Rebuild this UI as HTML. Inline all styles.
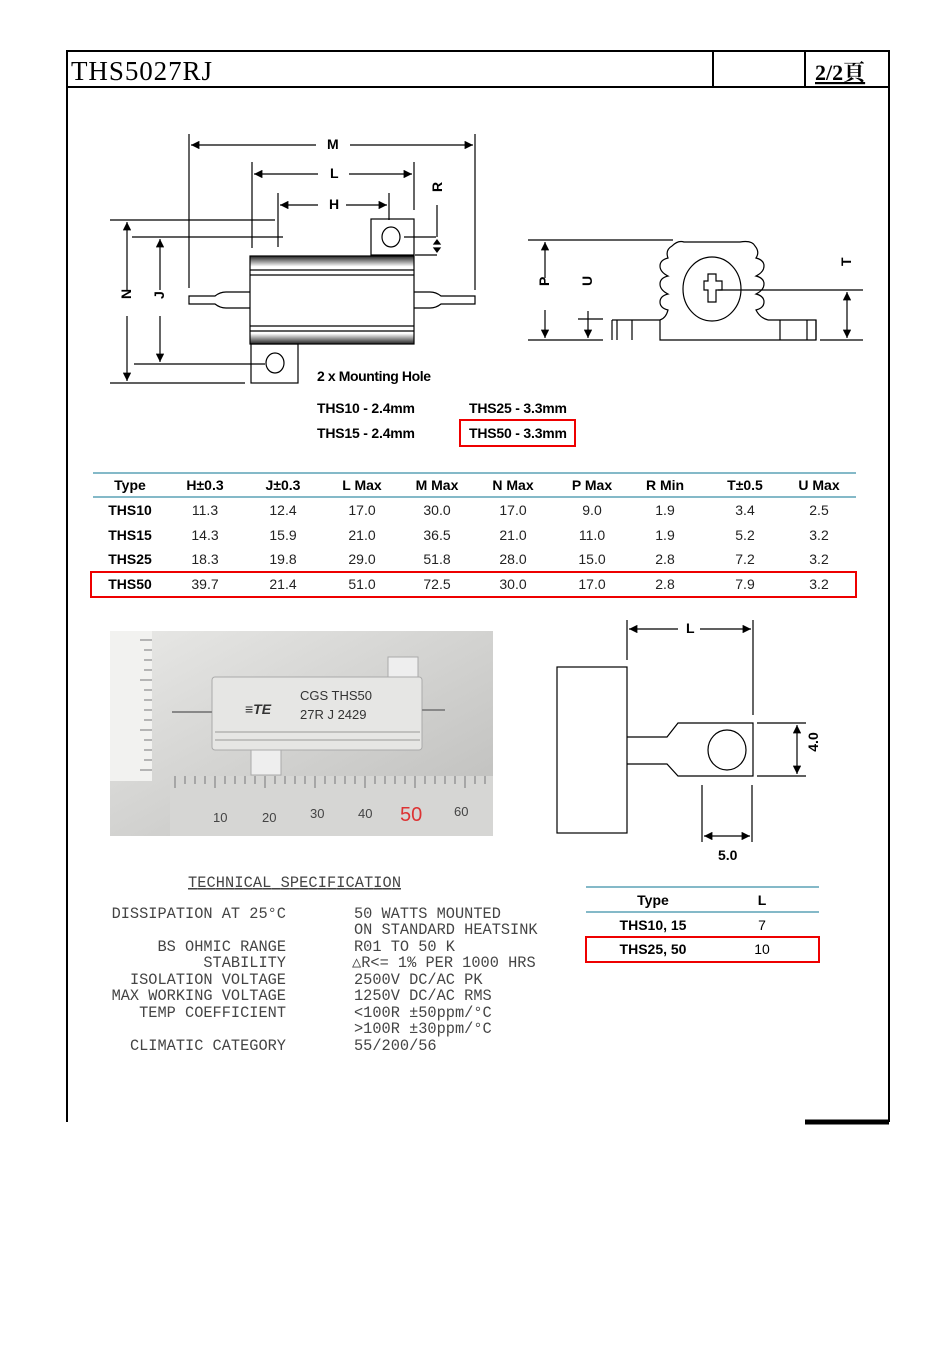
<!DOCTYPE html>
<html><head><meta charset="utf-8"><style>
body{margin:0;background:#fff;}
svg{display:block;}
.b{font-family:"Liberation Sans",sans-serif;font-weight:bold;font-size:14px;}
.n{font-family:"Liberation Sans",sans-serif;font-size:14px;}
.m{font-family:"Liberation Mono",monospace;font-size:15.3px;fill:#444;}
</style></head><body>
<svg width="926" height="1357" viewBox="0 0 926 1357" xmlns="http://www.w3.org/2000/svg">
<defs>
<marker id="a" viewBox="0 0 10 10" refX="10" refY="5" markerWidth="9" markerHeight="7" orient="auto-start-reverse"><path d="M0,0L10,5L0,10z" fill="#000"/></marker>
<linearGradient id="g" x1="0" y1="0" x2="0" y2="1"><stop offset="0" stop-color="#222"/><stop offset="0.12" stop-color="#fff"/><stop offset="0.88" stop-color="#fff"/><stop offset="1" stop-color="#222"/></linearGradient>
<linearGradient id="ph" x1="0" y1="0" x2="1" y2="1"><stop offset="0" stop-color="#e8e8e6"/><stop offset="1" stop-color="#bdbdbb"/></linearGradient>
</defs>
<g stroke="#000" stroke-width="2" fill="none">
<path d="M67,1122V51H889V1122"/>
<line x1="67" y1="87" x2="889" y2="87"/>
<line x1="713" y1="51" x2="713" y2="87"/>
<line x1="805" y1="51" x2="805" y2="87"/>
</g>
<line x1="805" y1="1122" x2="889" y2="1122" stroke="#000" stroke-width="5"/>
<text x="71" y="80" font-family="Liberation Serif,serif" font-size="27" textLength="141">THS5027RJ</text>
<text x="815" y="80" font-family="Liberation Serif,'Noto Serif CJK SC',serif" font-size="22" font-weight="bold" text-decoration="underline">2/2頁</text>

<g stroke="#000" stroke-width="1.2" fill="none">
<line x1="189" y1="134" x2="189" y2="288"/><line x1="475" y1="134" x2="475" y2="290"/>
<line x1="191" y1="145" x2="316" y2="145" marker-start="url(#a)"/>
<line x1="350" y1="145" x2="473" y2="145" marker-end="url(#a)"/>
<line x1="252" y1="162" x2="252" y2="248"/><line x1="414" y1="162" x2="414" y2="210"/>
<line x1="254" y1="174" x2="318" y2="174" marker-start="url(#a)"/>
<line x1="349" y1="174" x2="412" y2="174" marker-end="url(#a)"/>
<line x1="278" y1="193" x2="278" y2="247"/><line x1="389" y1="193" x2="389" y2="220"/>
<line x1="280" y1="205" x2="318" y2="205" marker-start="url(#a)"/>
<line x1="346" y1="205" x2="387" y2="205" marker-end="url(#a)"/>
<line x1="110" y1="220" x2="275" y2="220"/>
<line x1="132" y1="237" x2="283" y2="237"/>
<rect x="371" y="219" width="43" height="36"/>
<ellipse cx="391" cy="237" rx="9" ry="10"/>
<line x1="404" y1="237" x2="436" y2="237"/>
<line x1="415" y1="255" x2="437" y2="255"/>
<line x1="437" y1="205" x2="437" y2="237"/>
<path d="M437,240l-3,4h6z M437,252l-3,-4h6z" fill="#000"/>
<rect x="250" y="256" width="164" height="88" fill="url(#g)"/>
<line x1="250" y1="270" x2="414" y2="270"/><line x1="250" y1="275" x2="414" y2="275"/>
<line x1="250" y1="326" x2="414" y2="326"/><line x1="250" y1="331" x2="414" y2="331"/>
<path d="M250,292H226Q220,292 215,296H189V304H215Q220,308 226,308H250"/>
<path d="M414,292H430Q436,292 441,296H475V304H441Q436,308 430,308H414"/>
<rect x="251" y="344" width="47" height="39"/>
<ellipse cx="275" cy="363" rx="9" ry="10"/>
<line x1="110" y1="383" x2="245" y2="383"/>
<line x1="134" y1="364" x2="265" y2="364"/>
<line x1="127" y1="222" x2="127" y2="290" marker-start="url(#a)"/><line x1="127" y1="316" x2="127" y2="381" marker-end="url(#a)"/>
<line x1="160" y1="239" x2="160" y2="290" marker-start="url(#a)"/><line x1="160" y1="316" x2="160" y2="362" marker-end="url(#a)"/>
</g>
<g class="b" font-size="13">
<text x="327" y="149">M</text><text x="330" y="178">L</text><text x="329" y="209">H</text>
<text x="131" y="307" transform="rotate(-90 127 303)">N</text>
<text x="164" y="307" transform="rotate(-90 160 303)">J</text>
<text x="441" y="201" transform="rotate(-90 437 196)">R</text>
</g>
<text x="317" y="381" class="b" textLength="114">2 x Mounting Hole</text>
<text x="317" y="413" class="b" textLength="98">THS10 - 2.4mm</text>
<text x="317" y="438" class="b" textLength="98">THS15 - 2.4mm</text>
<text x="469" y="413" class="b" textLength="98">THS25 - 3.3mm</text>
<text x="469" y="438" class="b" textLength="98">THS50 - 3.3mm</text>
<rect x="460" y="420" width="115" height="26" fill="none" stroke="#e00" stroke-width="2"/>

<g stroke="#000" stroke-width="1.2" fill="none">
<line x1="528" y1="240" x2="673" y2="240"/>
<line x1="528" y1="340" x2="603" y2="340"/>
<line x1="545" y1="242" x2="545" y2="278" marker-start="url(#a)"/><line x1="545" y1="310" x2="545" y2="338" marker-end="url(#a)"/>
<line x1="578" y1="319" x2="603" y2="319"/>
<line x1="588" y1="311" x2="588" y2="338" marker-end="url(#a)"/>
<path d="M612,320H660V340H816V320H768"/>
<line x1="617" y1="320" x2="617" y2="340"/><line x1="632" y1="320" x2="632" y2="340"/>
<line x1="780" y1="320" x2="780" y2="340"/><line x1="807" y1="320" x2="807" y2="340"/>
<path d="M612,320V340 M816,320V340"/>
<path d="M660,320Q666,318 668,310Q660,308 660,302Q660,296 668,294Q660,290 660,284Q660,278 668,276Q660,272 660,266Q660,260 668,258Q665,250 672,246Q678,240 684,242L740,242Q752,240 755,246Q760,252 756,258Q764,260 764,266Q764,272 756,276Q764,278 764,284Q764,290 756,294Q764,296 764,302Q764,308 756,310Q760,318 768,320"/>
<ellipse cx="712" cy="289" rx="29" ry="32"/>
<path d="M708,274h8v7h6v9h-6v12h-8v-12h-4v-9h4z"/>
<line x1="718" y1="290" x2="863" y2="290"/>
<line x1="820" y1="340" x2="863" y2="340"/>
<line x1="847" y1="292" x2="847" y2="338" marker-start="url(#a)" marker-end="url(#a)"/>
</g>
<g class="b" font-size="12">
<text x="549" y="294" transform="rotate(-90 545 290)">P</text>
<text x="592" y="294" transform="rotate(-90 588 290)">U</text>
<text x="851" y="274" transform="rotate(-90 847 270)">T</text>
</g>

<line x1="93" y1="473" x2="856" y2="473" stroke="#3a8fa8" stroke-width="1.2"/>
<line x1="93" y1="497" x2="856" y2="497" stroke="#3a8fa8" stroke-width="1.2"/>
<g class="b" text-anchor="middle">
<text x="130" y="490">Type</text><text x="205" y="490">H±0.3</text><text x="283" y="490">J±0.3</text><text x="362" y="490">L Max</text><text x="437" y="490">M Max</text><text x="513" y="490">N Max</text><text x="592" y="490">P Max</text><text x="665" y="490">R Min</text><text x="745" y="490">T±0.5</text><text x="819" y="490">U Max</text>
<text x="130" y="515">THS10</text><text x="130" y="540">THS15</text><text x="130" y="564">THS25</text><text x="130" y="589">THS50</text>
</g>
<g class="n" text-anchor="middle" fill="#222">
<text x="205" y="515">11.3</text><text x="283" y="515">12.4</text><text x="362" y="515">17.0</text><text x="437" y="515">30.0</text><text x="513" y="515">17.0</text><text x="592" y="515">9.0</text><text x="665" y="515">1.9</text><text x="745" y="515">3.4</text><text x="819" y="515">2.5</text>
<text x="205" y="540">14.3</text><text x="283" y="540">15.9</text><text x="362" y="540">21.0</text><text x="437" y="540">36.5</text><text x="513" y="540">21.0</text><text x="592" y="540">11.0</text><text x="665" y="540">1.9</text><text x="745" y="540">5.2</text><text x="819" y="540">3.2</text>
<text x="205" y="564">18.3</text><text x="283" y="564">19.8</text><text x="362" y="564">29.0</text><text x="437" y="564">51.8</text><text x="513" y="564">28.0</text><text x="592" y="564">15.0</text><text x="665" y="564">2.8</text><text x="745" y="564">7.2</text><text x="819" y="564">3.2</text>
<text x="205" y="589">39.7</text><text x="283" y="589">21.4</text><text x="362" y="589">51.0</text><text x="437" y="589">72.5</text><text x="513" y="589">30.0</text><text x="592" y="589">17.0</text><text x="665" y="589">2.8</text><text x="745" y="589">7.9</text><text x="819" y="589">3.2</text>
</g>
<rect x="91" y="572" width="765" height="25" fill="none" stroke="#e00" stroke-width="2"/>

<rect x="110" y="631" width="383" height="205" fill="url(#ph)"/>
<rect x="110" y="631" width="42" height="150" fill="#f2f2f0"/>
<rect x="170" y="776" width="323" height="60" fill="#d6d6d4"/>
<g stroke="#777" stroke-width="1">
<path d="M175,776v12M185,776v8M195,776v8M205,776v8M215,776v12M225,776v8M235,776v8M245,776v8M255,776v8M265,776v12M275,776v8M285,776v8M295,776v8M305,776v8M315,776v12M325,776v8M335,776v8M345,776v8M355,776v8M365,776v12M375,776v8M385,776v8M395,776v8M405,776v8M415,776v12M425,776v8M435,776v8M445,776v8M455,776v8M465,776v12M475,776v8M485,776v8"/>
<path d="M152,640h-12M152,650h-8M152,660h-8M152,670h-8M152,680h-12M152,690h-8M152,700h-8M152,710h-8M152,720h-8M152,730h-12M152,740h-8M152,750h-8M152,760h-8M152,770h-12"/>
</g>
<g font-family="Liberation Sans,sans-serif" font-size="13" fill="#444">
<text x="213" y="822">10</text><text x="262" y="822">20</text><text x="310" y="818">30</text><text x="358" y="818">40</text><text x="454" y="816">60</text>
</g>
<text x="400" y="821" font-family="Liberation Sans,sans-serif" font-size="20" fill="#d33">50</text>
<rect x="388" y="657" width="30" height="22" fill="#eee" stroke="#aaa"/>
<rect x="251" y="749" width="30" height="26" fill="#eee" stroke="#aaa"/>
<rect x="212" y="677" width="210" height="73" rx="3" fill="#e6e6e4" stroke="#aaa"/>
<line x1="215" y1="732" x2="420" y2="732" stroke="#999"/><line x1="215" y1="740" x2="420" y2="740" stroke="#999"/>
<line x1="172" y1="712" x2="212" y2="712" stroke="#888" stroke-width="2"/><line x1="422" y1="710" x2="445" y2="710" stroke="#888" stroke-width="2"/>
<text x="245" y="714" font-family="Liberation Sans,sans-serif" font-weight="bold" font-style="italic" font-size="14" fill="#333">≡TE</text>
<text x="300" y="700" font-family="Liberation Sans,sans-serif" font-size="13" fill="#333">CGS  THS50</text>
<text x="300" y="719" font-family="Liberation Sans,sans-serif" font-size="13" fill="#333">27R  J  2429</text>

<g stroke="#000" stroke-width="1.2" fill="none">
<rect x="557" y="667" width="70" height="166"/>
<line x1="627" y1="620" x2="627" y2="660"/><line x1="753" y1="620" x2="753" y2="715"/>
<line x1="629" y1="629" x2="678" y2="629" marker-start="url(#a)"/><line x1="700" y1="629" x2="751" y2="629" marker-end="url(#a)"/>
<path d="M627,737H667L678,723H753V776H678L667,764H627"/>
<ellipse cx="727" cy="750" rx="19" ry="20"/>
<line x1="757" y1="723" x2="806" y2="723"/><line x1="757" y1="776" x2="806" y2="776"/>
<line x1="797" y1="725" x2="797" y2="774" marker-start="url(#a)" marker-end="url(#a)"/>
<line x1="702" y1="785" x2="702" y2="842"/><line x1="752" y1="785" x2="752" y2="842"/>
<line x1="704" y1="836" x2="750" y2="836" marker-start="url(#a)" marker-end="url(#a)"/>
</g>
<text x="686" y="633" class="b" font-size="13">L</text>
<text x="718" y="860" class="b" font-size="14">5.0</text>
<text x="820" y="752" class="b" font-size="14" transform="rotate(-90 814 748)" text-anchor="middle">4.0</text>

<line x1="586" y1="887" x2="819" y2="887" stroke="#3a8fa8" stroke-width="1.2"/>
<line x1="586" y1="912" x2="819" y2="912" stroke="#3a8fa8" stroke-width="1.2"/>
<g class="b" text-anchor="middle"><text x="653" y="905">Type</text><text x="762" y="905">L</text><text x="653" y="930">THS10, 15</text><text x="653" y="954">THS25, 50</text></g>
<g class="n" text-anchor="middle"><text x="762" y="930">7</text><text x="762" y="954">10</text></g>
<rect x="586" y="937" width="233" height="25" fill="none" stroke="#e00" stroke-width="2"/>

<text x="188" y="887" class="m" text-decoration="underline" textLength="213">TECHNICAL SPECIFICATION</text>
<g class="m" text-anchor="end">
<text x="286" y="918">DISSIPATION AT 25°C</text>
<text x="286" y="951">BS OHMIC RANGE</text>
<text x="286" y="967">STABILITY</text>
<text x="286" y="984">ISOLATION VOLTAGE</text>
<text x="286" y="1000">MAX WORKING VOLTAGE</text>
<text x="286" y="1017">TEMP COEFFICIENT</text>
<text x="286" y="1050">CLIMATIC CATEGORY</text>
</g>
<g class="m">
<text x="354" y="918">50 WATTS MOUNTED</text>
<text x="354" y="934">ON STANDARD HEATSINK</text>
<text x="354" y="951">R01 TO 50 K</text>
<text x="352" y="967">△R&lt;= 1% PER 1000 HRS</text>
<text x="354" y="984">2500V DC/AC PK</text>
<text x="354" y="1000">1250V DC/AC RMS</text>
<text x="354" y="1017">&lt;100R  ±50ppm/°C</text>
<text x="354" y="1033">&gt;100R  ±30ppm/°C</text>
<text x="354" y="1050">55/200/56</text>
</g>
</svg>
</body></html>
